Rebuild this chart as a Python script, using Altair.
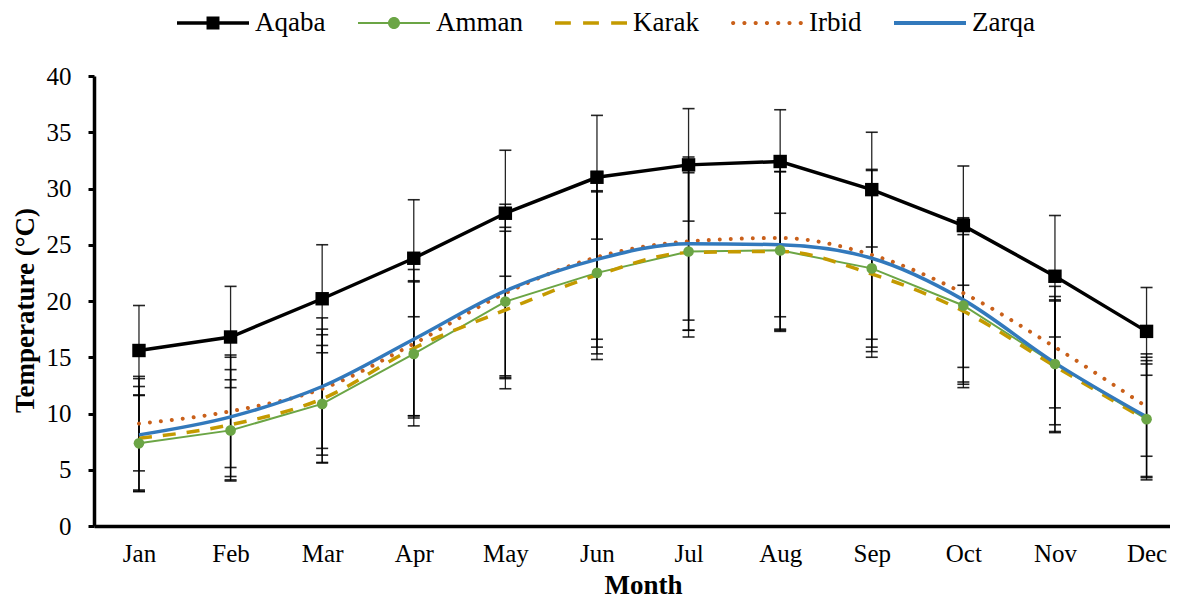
import json
import altair as alt
import pandas as pd

months = ["Jan", "Feb", "Mar", "Apr", "May", "Jun", "Jul", "Aug", "Sep", "Oct", "Nov", "Dec"]
series_names = ["Aqaba", "Amman", "Karak", "Irbid", "Zarqa"]

aqaba = [15.6, 16.8, 20.2, 23.8, 27.8, 31.0, 32.1, 32.4, 29.9, 26.7, 22.2, 17.3]
aqaba_sd = [4.0, 4.5, 4.8, 5.2, 5.6, 5.5, 5.0, 4.6, 5.1, 5.3, 5.4, 3.9]
amman = [7.35, 8.5, 10.85, 15.3, 19.95, 22.5, 24.4, 24.5, 22.9, 19.6, 14.4, 9.5]
amman_sd = [4.3, 4.5, 5.2, 6.4, 6.6, 7.2, 7.0, 7.0, 7.4, 7.0, 6.0, 5.2]
karak = [7.8, 9.0, 11.3, 15.8, 19.2, 22.3, 24.3, 24.4, 22.4, 19.1, 14.2, 9.4]
karak_sd = [4.6, 4.9, 5.7, 6.0, 7.0, 7.5, 7.5, 7.1, 7.4, 6.8, 5.9, 5.0]
irbid = [9.1, 10.2, 12.2, 16.2, 20.7, 23.9, 25.3, 25.6, 24.1, 20.7, 15.9, 10.6]
irbid_sd = [4.2, 5.0, 5.3, 6.6, 7.6, 7.3, 7.0, 7.0, 7.5, 6.6, 5.4, 4.4]
zarqa = [8.1, 9.7, 12.4, 16.6, 20.9, 23.7, 25.1, 25.0, 23.8, 20.1, 14.5, 9.7]
zarqa_sd = [5.0, 5.3, 6.1, 6.8, 7.7, 7.8, 7.7, 7.6, 7.9, 7.3, 5.5, 5.6]

colors = ["#000000", "#6BA545", "#C49A00", "#C9601A", "#3279BC"]

values = {"Aqaba": aqaba, "Amman": amman, "Karak": karak, "Irbid": irbid, "Zarqa": zarqa}
sds = {"Aqaba": aqaba_sd, "Amman": amman_sd, "Karak": karak_sd, "Irbid": irbid_sd, "Zarqa": zarqa_sd}

rows = []
for s in series_names:
    for i, m in enumerate(months):
        rows.append({"series": s, "m": i + 1, "month": m, "value": values[s][i], "sd": sds[s][i]})
df = pd.DataFrame(rows)

# legend symbols (line + marker glyphs), normalised to [-1, 1]
def circ(cx, r):
    return f"M{cx - r:.3f},0A{r:.3f},{r:.3f} 0 1,1 {cx + r:.3f},0A{r:.3f},{r:.3f} 0 1,1 {cx - r:.3f},0Z"

def rect(x0, x1, h):
    return f"M{x0:.3f},{-h:.3f}H{x1:.3f}V{h:.3f}H{x0:.3f}Z"

sym_aqaba = rect(-1, 1, 0.05) + " " + "M-0.18,-0.18H0.18V0.18H-0.18Z"
sym_amman = rect(-1, 1, 0.03) + " " + circ(0, 0.167)
sym_karak = " ".join(rect(a, b, 0.05) for a, b in [(-1, -0.56), (-0.22, 0.22), (0.56, 1)])
sym_irbid = " ".join(circ(-0.94 + k * 0.313, 0.058) for k in range(7))
sym_zarqa = rect(-1, 1, 0.056)
shapes = [sym_aqaba, sym_amman, sym_karak, sym_irbid, sym_zarqa]

FONT = "Liberation Serif"

base = alt.Chart(df).transform_calculate(
    lo="datum.value - datum.sd", hi="datum.value + datum.sd"
)

x_enc = alt.X(
    "m:Q",
    scale=alt.Scale(domain=[0.509, 12.256], nice=False, zero=False),
    axis=alt.Axis(
        values=list(range(1, 13)),
        labelExpr=json.dumps(months) + "[datum.value - 1]",
        ticks=False,
        grid=False,
        domainColor="black",
        domainWidth=3.5,
        labelFont=FONT,
        labelFontSize=25,
        labelColor="black",
        labelPadding=15,
        labelFlush=False,
        labelOverlap=False,
        title="Month",
        titleFont=FONT,
        titleFontSize=27,
        titleFontWeight="bold",
        titleColor="black",
        titlePadding=6,
        titleX=549,
        titleAlign="center",
    ),
)
y_scale = alt.Scale(domain=[0, 40], nice=False, zero=True)
y_axis = alt.Axis(
    values=list(range(0, 41, 5)),
    grid=False,
    domainColor="black",
    domainWidth=3.5,
    tickColor="black",
    tickWidth=3,
    tickSize=6,
    labelFont=FONT,
    labelFontSize=25,
    labelColor="black",
    labelPadding=17,
    title="Temperature (°C)",
    titleFont=FONT,
    titleFontSize=27,
    titleFontWeight="bold",
    titleColor="black",
    titlePadding=7,
    titleY=234,
    titleAlign="center",
)

err = base.mark_rule(color="black", strokeWidth=1.3, opacity=0.85).encode(
    x=x_enc, y=alt.Y("lo:Q", scale=y_scale, axis=y_axis), y2="hi:Q"
)
cap_lo = base.mark_tick(orient="horizontal", size=12, thickness=1.6, color="black", opacity=0.85).encode(
    x="m:Q", y="lo:Q"
)
cap_hi = base.mark_tick(orient="horizontal", size=12, thickness=1.6, color="black", opacity=0.85).encode(
    x="m:Q", y="hi:Q"
)

line_styles = {
    "Aqaba": dict(color=colors[0], strokeWidth=3.5, interpolate="linear"),
    "Amman": dict(color=colors[1], strokeWidth=2, interpolate="linear"),
    "Karak": dict(color=colors[2], strokeWidth=3.5, strokeDash=[13, 11], interpolate="monotone"),
    "Irbid": dict(color=colors[3], strokeWidth=4, strokeDash=[0.01, 11], strokeCap="round", interpolate="monotone"),
    "Zarqa": dict(color=colors[4], strokeWidth=3.5, interpolate="monotone"),
}
draw_order = ["Aqaba", "Amman", "Karak", "Irbid", "Zarqa"]
lines = [
    base.transform_filter(alt.datum.series == s).mark_line(**line_styles[s]).encode(x="m:Q", y="value:Q")
    for s in draw_order
]

aq_pts = base.transform_filter(alt.datum.series == "Aqaba").mark_point(
    shape="square", filled=True, size=180, color=colors[0], opacity=1
).encode(x="m:Q", y="value:Q")
am_pts = base.transform_filter(alt.datum.series == "Amman").mark_point(
    shape="circle", filled=True, size=113, color=colors[1], opacity=1
).encode(x="m:Q", y="value:Q")

leg = alt.Legend(
    orient="none",
    legendX=83,
    legendY=-89,
    direction="horizontal",
    columns=5,
    symbolSize=5184,
    symbolStrokeWidth=0,
    symbolOpacity=1,
    labelFont=FONT,
    labelFontSize=27,
    labelColor="black",
    labelOffset=6,
    columnPadding=32,
    padding=0,
    title=None,
)
legend_layer = base.transform_filter(alt.datum.m == 1).mark_point(filled=True, opacity=0).encode(
    x="m:Q",
    y="value:Q",
    color=alt.Color("series:N", sort=series_names, scale=alt.Scale(domain=series_names, range=colors), legend=leg),
    shape=alt.Shape("series:N", sort=series_names, scale=alt.Scale(domain=series_names, range=shapes), legend=leg),
)

chart = alt.layer(err, cap_lo, cap_hi, *lines, aq_pts, am_pts, legend_layer).properties(
    width=1076,
    height=450,
    autosize=alt.AutoSizeParams(type="none"),
    padding={"left": 86, "top": 68, "right": 0, "bottom": 72},
    background="white",
).configure(
    font=FONT
).configure_axis(
    labelFont=FONT, titleFont=FONT
).configure_legend(
    labelFont=FONT, labelFontSize=27, titleFont=FONT
).configure_view(stroke=None)

chart.save("out.html", embed_options={"renderer": "svg", "actions": False})
